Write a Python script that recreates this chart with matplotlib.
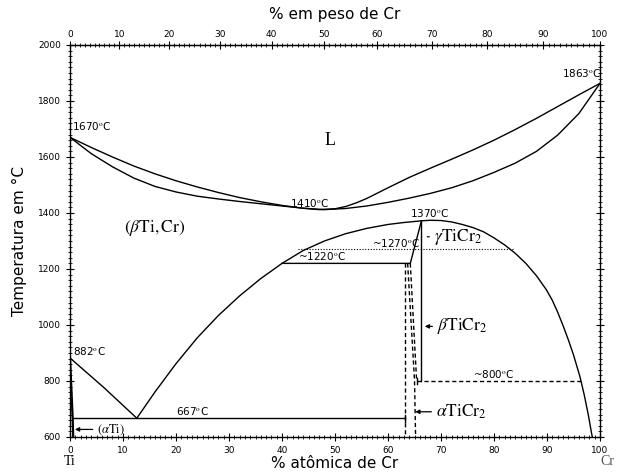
import matplotlib
matplotlib.use('Agg')
import matplotlib.pyplot as plt
from matplotlib.ticker import MultipleLocator
import numpy as np

plt.rcParams['mathtext.fontset'] = 'stix'

# atomic masses for the wt% <-> at% top axis
M_TI = 47.867
M_CR = 51.996

# liquidus / solidus (at% Cr, degC)
liq_x = [0, 4, 8, 12, 16, 20, 24, 28, 32, 36, 40, 44, 47, 50, 52, 54, 56, 60, 64, 68, 72, 76, 80, 84, 88, 92, 96, 100]
liq_t = [1670, 1634, 1600, 1568, 1540, 1515, 1493, 1473, 1455, 1440, 1427, 1417, 1412, 1415, 1423, 1436, 1452, 1490,
         1527, 1560, 1592, 1625, 1660, 1698, 1738, 1780, 1822, 1863]
sol_x = [0, 4, 8, 12, 16, 20, 24, 28, 32, 36, 40, 44, 48, 52, 56, 60, 64, 68, 72, 76, 80, 84, 88, 92, 96, 100]
sol_t = [1670, 1612, 1565, 1525, 1495, 1475, 1460, 1450, 1441, 1433, 1425, 1417, 1412, 1416, 1425, 1438,
         1453, 1470, 1490, 1515, 1545, 1578, 1620, 1678, 1755, 1863]

# beta solvus dome (left branch from the eutectoid, right branch to Cr side)
dome_x = [12.6, 16, 20, 24, 28, 32, 36, 40, 44, 48, 52, 56, 60, 63, 66.3,
          68, 70, 72, 74, 76, 78, 80, 82, 84, 86, 88, 89.9, 91, 92, 93.1, 94, 95, 96.2, 97, 97.8, 98.4, 98.55]
dome_t = [667, 760, 862, 954, 1034, 1104, 1166, 1220, 1266, 1300, 1326, 1345, 1359, 1366, 1372,
          1374, 1373, 1368, 1359, 1348, 1333, 1311, 1286, 1256, 1220, 1176, 1125, 1088, 1046, 994, 948, 893,
          816, 752, 678, 613, 600]

# Ti side
trans_x = [0, 6.3, 12.6]
trans_t = [882, 778, 667]
alpha_x = [0, 0.5, 0.6]
alpha_t = [882, 667, 600]

# invariant lines
eut_x = [0.5, 63.2]
eut_t = [667, 667]
per_x = [40.0, 64.2, 66.3]
per_t = [1220, 1220, 1372]
gb_x = [66.3, 66.3]
gb_t = [1372, 800]
dot_x = [43.0, 83.5]
dot_t = [1270, 1270]
low_x = [65.4, 96.6]
low_t = [800, 800]

# TiCr2 dashed boundaries
d1_x = [63.2, 63.2]
d1_t = [1220, 600]
d2_x = [63.7, 65.0, 65.2]
d2_t = [1220, 800, 600]
d3_x = [64.2, 65.4]
d3_t = [1220, 800]


def at2wt(a):
    a = np.asarray(a, dtype=float)
    return 100 * a * M_CR / (a * M_CR + (100 - a) * M_TI)


def wt2at(w):
    w = np.asarray(w, dtype=float)
    return 100 * (w / M_CR) / (w / M_CR + (100 - w) / M_TI)


fig = plt.figure(figsize=(6.17, 4.72), dpi=100)
ax = fig.add_axes([0.1135, 0.0742, 0.859, 0.8305])

lw = 1.0
k = 'black'
ax.plot(liq_x, liq_t, color=k, lw=lw)
ax.plot(sol_x, sol_t, color=k, lw=lw)
ax.plot(dome_x, dome_t, color=k, lw=lw)
ax.plot(trans_x, trans_t, color=k, lw=lw)
ax.plot(alpha_x, alpha_t, color=k, lw=1.6)
ax.plot(eut_x, eut_t, color=k, lw=lw)
ax.plot(per_x, per_t, color=k, lw=lw)
ax.plot(gb_x, gb_t, color=k, lw=lw)
ax.plot(dot_x, dot_t, color=k, lw=0.8, ls=(0, (1, 1.5)))
ax.plot(low_x, low_t, color=k, lw=lw, ls=(0, (3, 2)))
for xs, ts in [(d1_x, d1_t), (d2_x, d2_t), (d3_x, d3_t)]:
    ax.plot(xs, ts, color=k, lw=lw, ls=(0, (3, 2)))

# small end ticks
ax.plot([63.2, 63.2], [655, 680], color=k, lw=lw)
ax.plot([65.4, 65.4], [788, 812], color=k, lw=lw)

# temperature labels
small = dict(fontsize=7.5, color=k, family='DejaVu Sans')
ax.text(0.3, 1688, r'1670$^{\mathrm{o}}$C', ha='left', va='bottom', **small)
ax.text(100.3, 1878, r'1863$^{\mathrm{o}}$C', ha='right', va='bottom', **small)
ax.text(45.2, 1414, r'1410$^{\mathrm{o}}$C', ha='center', va='bottom', **small)
ax.text(67.8, 1378, r'1370$^{\mathrm{o}}$C', ha='center', va='bottom', **small)
ax.text(61.5, 1273, r'~1270$^{\mathrm{o}}$C', ha='center', va='bottom', **small)
ax.text(47.5, 1224, r'~1220$^{\mathrm{o}}$C', ha='center', va='bottom', **small)
ax.text(80, 803, r'~800$^{\mathrm{o}}$C', ha='center', va='bottom', **small)
ax.text(23, 670, r'667$^{\mathrm{o}}$C', ha='center', va='bottom', **small)
ax.text(0.6, 885, r'882$^{\mathrm{o}}$C', ha='left', va='bottom', **small)

# phase labels
ax.text(49, 1660, 'L', fontsize=13, family='Liberation Serif', ha='center', va='center')
ax.text(16, 1345, r'$(\beta\mathrm{Ti,Cr})$', fontsize=12.5, ha='center', va='center')
ax.text(68.6, 1315, r'$\gamma\mathrm{TiCr}_2$', fontsize=12.5, ha='left', va='center')
ax.text(69.2, 995, r'$\beta\mathrm{TiCr}_2$', fontsize=12.5, ha='left', va='center')
ax.text(69.0, 690, r'$\alpha\mathrm{TiCr}_2$', fontsize=12.5, ha='left', va='center')
ax.text(5.0, 627, r'$(\alpha\mathrm{Ti})$', fontsize=9, ha='left', va='center')

arrow = dict(arrowstyle='-|>', color=k, lw=0.9, mutation_scale=6)
ax.annotate('', xy=(66.9, 1315), xytext=(68.3, 1315), arrowprops=dict(arrowstyle='-', color=k, lw=0.9))
ax.annotate('', xy=(66.4, 995), xytext=(68.9, 995), arrowprops=arrow)
ax.annotate('', xy=(64.6, 690), xytext=(68.7, 690), arrowprops=arrow)
ax.annotate('', xy=(0.4, 627), xytext=(4.8, 627), arrowprops=arrow)

ax.set_xlim(0, 100)
ax.set_ylim(600, 2000)
ax.xaxis.set_major_locator(MultipleLocator(10))
ax.xaxis.set_minor_locator(MultipleLocator(1))
ax.yaxis.set_major_locator(MultipleLocator(200))
ax.yaxis.set_minor_locator(MultipleLocator(20))
ax.tick_params(which='both', direction='inout', right=True, top=False, labelsize=6.5, width=0.8)
ax.tick_params(which='major', length=6)
ax.tick_params(which='minor', length=3, width=0.6)
for s in ax.spines.values():
    s.set_linewidth(1.0)

ax.set_xlabel('% atômica de Cr', fontsize=11, labelpad=1)
ax.set_ylabel('Temperatura em °C', fontsize=11, labelpad=8)

top = ax.secondary_xaxis('top', functions=(at2wt, wt2at))
top.set_xticks(np.arange(0, 101, 10))
top.xaxis.set_minor_locator(MultipleLocator(1))
top.tick_params(which='both', direction='inout', labelsize=6.5, width=0.8, pad=1)
top.tick_params(which='major', length=6)
top.tick_params(which='minor', length=3, width=0.6)
top.set_xlabel('% em peso de Cr', fontsize=11, labelpad=8)

fig.text(0.113, 0.015, 'Ti', fontsize=10, family='Liberation Serif', ha='center')
fig.text(0.985, 0.015, 'Cr', fontsize=10, family='Liberation Serif', ha='center', color='#555555')

fig.savefig('out.png', dpi=100)
